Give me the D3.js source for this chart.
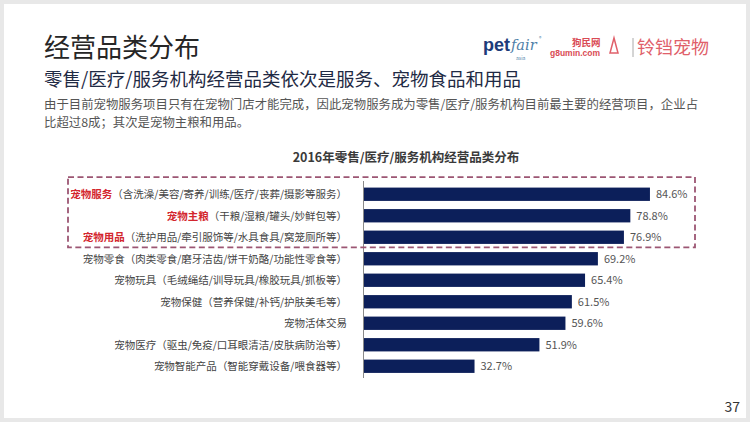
<!DOCTYPE html>
<html><head><meta charset="utf-8">
<script src="https://cdn.jsdelivr.net/npm/d3@7"></script>
<style>
html,body{margin:0;padding:0;background:#e8e8e8;}
svg{display:block;font-family:"Noto Sans CJK SC","Noto Sans",sans-serif;}
</style></head>
<body>
<svg id="c" width="750" height="422"></svg>
<script>
const categoryNames = ["宠物服务","宠物主粮","宠物用品","宠物零食","宠物玩具","宠物保健","宠物活体交易","宠物医疗","宠物智能产品"];
const categoryDetails = [
  "（含洗澡/美容/寄养/训练/医疗/丧葬/摄影等服务）",
  "（干粮/湿粮/罐头/妙鲜包等）",
  "（洗护用品/牵引服饰等/水具食具/窝笼厕所等）",
  "（肉类零食/磨牙洁齿/饼干奶酪/功能性零食等）",
  "（毛绒绳结/训导玩具/橡胶玩具/抓板等）",
  "（营养保健/补钙/护肤美毛等）",
  "",
  "（驱虫/免疫/口耳眼清洁/皮肤病防治等）",
  "（智能穿戴设备/喂食器等）"
];
const values = [84.6, 78.8, 76.9, 69.2, 65.4, 61.5, 59.6, 51.9, 32.7];
const highlightedCount = 3;

const titleText = "经营品类分布";
const subtitleText = "零售/医疗/服务机构经营品类依次是服务、宠物食品和用品";
const bodyLines = ["由于目前宠物服务项目只有在宠物门店才能完成，因此宠物服务成为零售/医疗/服务机构目前最主要的经营项目，企业占","比超过8成；其次是宠物主粮和用品。"];
const chartTitle = "2016年零售/医疗/服务机构经营品类分布";
const pageNumber = "37";

const svg = d3.select("#c");
// slide background
svg.append("rect").attr("x",0).attr("y",0).attr("width",750).attr("height",422).attr("fill","#e8e8e8");
svg.append("rect").attr("x",4).attr("y",4).attr("width",742).attr("height",414).attr("fill","#ffffff");

// header texts
svg.append("text").attr("x",44).attr("y",57).attr("font-size",26).attr("fill","#262626").text(titleText);
svg.append("text").attr("x",44).attr("y",86).attr("font-size",18.5).attr("fill","#1f2a44").text(subtitleText);
svg.selectAll("text.body").data(bodyLines).join("text").attr("class","body")
  .attr("x",44).attr("y",(d,i)=>109+i*18).attr("font-size",12.4).attr("fill","#555").text(d=>d);

// logos as text
const lg = svg.append("g");
lg.append("text").attr("x",483).attr("y",51).attr("font-family","Liberation Sans, sans-serif").attr("font-weight","bold").attr("font-size",18).attr("fill","#1d3b7a").text("pet");
lg.append("text").attr("x",511).attr("y",50).attr("font-family","DejaVu Serif, serif").attr("font-style","italic").attr("font-size",14.5).attr("fill","#4f7fa8").text("fair");
lg.append("text").attr("x",539).attr("y",40).attr("font-size",5).attr("fill","#4f7fa8").text("®");
lg.append("text").attr("x",516).attr("y",60).attr("font-size",5).attr("fill","#4f7fa8").text("asia");
lg.append("text").attr("x",572).attr("y",45.5).attr("font-size",9.5).attr("font-weight","bold").attr("fill","#d94b55").text("狗民网");
lg.append("text").attr("x",550).attr("y",56).attr("font-family","Liberation Sans, sans-serif").attr("font-weight","bold").attr("font-size",8.5).attr("fill","#d94b55").text("g8umin.com");
lg.append("path").attr("d","M614,38 L610,53 L618,53 Z").attr("fill","none").attr("stroke","#e0606a").attr("stroke-width",1.5);
lg.append("line").attr("x1",633).attr("x2",633).attr("y1",38).attr("y2",57).attr("stroke","#aaa");
lg.append("text").attr("x",637).attr("y",54).attr("font-size",18).attr("fill","#e0606a").text("铃铛宠物");

// chart title
svg.append("text").attr("x",406).attr("y",162).attr("text-anchor","middle").attr("font-size",12.5).attr("font-weight","bold").attr("fill","#3a3a3a").text(chartTitle);

// scales
const x = d3.scaleLinear().domain([0,100]).range([364,702]);
const y = d3.scaleBand().domain(categoryNames).range([183.5,377]).paddingInner(0.38).paddingOuter(0.19);

// bars
svg.selectAll("rect.bar").data(values).join("rect").attr("class","bar")
  .attr("x",x(0)).attr("y",(d,i)=>y(categoryNames[i]))
  .attr("width",d=>x(d)-x(0)).attr("height",y.bandwidth()).attr("fill","#0c1f5a");

// value labels
svg.selectAll("text.val").data(values).join("text").attr("class","val")
  .attr("x",d=>x(d)+6).attr("y",(d,i)=>y(categoryNames[i])+y.bandwidth()/2+4)
  .attr("font-size",11).attr("fill","#555").text(d=>d.toFixed(1)+"%");

// axis line
svg.append("line").attr("x1",363.5).attr("x2",363.5).attr("y1",181).attr("y2",378).attr("stroke","#8a8a8a").attr("stroke-width",1);

// category labels
const labs = svg.selectAll("text.cat").data(categoryNames).join("text").attr("class","cat")
  .attr("x",347).attr("y",d=>y(d)+y.bandwidth()/2+3.8).attr("text-anchor","end").attr("font-size",10.5);
labs.each(function(d,i){
  const t = d3.select(this);
  const hl = i < highlightedCount;
  t.append("tspan").attr("fill",hl?"#d3262e":"#444").attr("font-weight",hl?"bold":"normal").text(d);
  if (categoryDetails[i]) t.append("tspan").attr("fill","#444").text(categoryDetails[i]);
});

// dashed highlight box
const boxTop = y(categoryNames[0]) - 10.5;
const boxBot = y(categoryNames[highlightedCount-1]) + y.bandwidth() + 3.5;
svg.append("rect").attr("x",68).attr("y",boxTop).attr("width",627).attr("height",boxBot-boxTop)
  .attr("fill","none").attr("stroke","#9c5673").attr("stroke-width",1.8).attr("stroke-dasharray","6,3.5");

// page number
svg.append("text").attr("x",740).attr("y",412).attr("text-anchor","end").attr("font-size",14).attr("fill","#333").text(pageNumber);
</script>
</body></html>
